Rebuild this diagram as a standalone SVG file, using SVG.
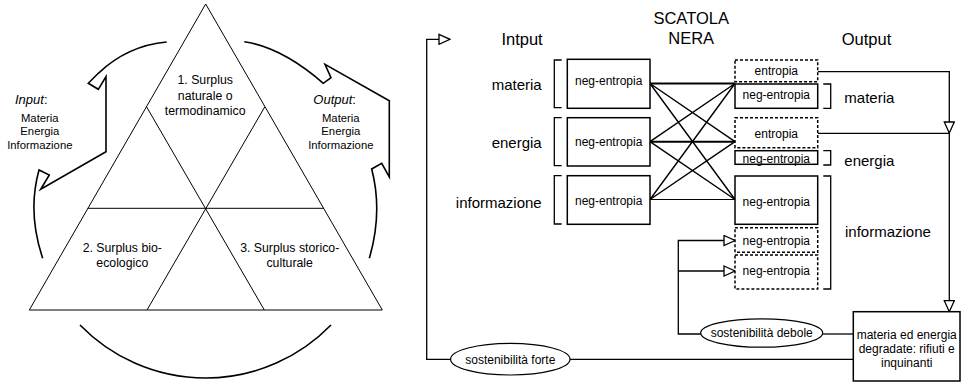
<svg xmlns="http://www.w3.org/2000/svg" width="962" height="382" viewBox="0 0 962 382">
<defs>
<style>
text{font-family:"Liberation Sans",Arial,sans-serif;fill:#000}
.t12{font-size:12px}
.t123{font-size:12.3px}
.t113{font-size:11.3px}
.t13{font-size:13px}
.t15{font-size:15px}
.t165{font-size:16.5px}
.mid{text-anchor:middle}
.end{text-anchor:end}
.tri{fill:none;stroke:#000;stroke-width:1}
.arc{fill:none;stroke:#000;stroke-width:1.6;stroke-linejoin:miter}
.box{fill:#fff;stroke:#000;stroke-width:1.5}
.dbox{fill:#fff;stroke:#000;stroke-width:1.5;stroke-dasharray:3 2}
.br{fill:none;stroke:#000;stroke-width:1.3}
.ln{fill:none;stroke:#000;stroke-width:1.3}
.cr{fill:none;stroke:#000;stroke-width:1.4}
.ell{fill:#fff;stroke:#000;stroke-width:1.2}
</style>
<marker id="ah" markerUnits="userSpaceOnUse" viewBox="-1 -1 13 12" markerWidth="13" markerHeight="12" refX="11" refY="5" orient="auto">
<path d="M0,0 L11,5 L0,10 Z" fill="#fff" stroke="#000" stroke-width="1.3"/>
</marker>
</defs>

<g id="triangle">
<path class="tri" d="M205.7,4 L382.3,310 L29.3,310 Z"/>
<path class="tri" d="M87.7,208.3 H324"/>
<path class="tri" d="M146.7,107 L264.3,310"/>
<path class="tri" d="M264.7,107 L147,310"/>
<text class="t123 mid" x="205.2" y="84.3">1. Surplus</text>
<text class="t123 mid" x="205.2" y="99.5">naturale o</text>
<text class="t123 mid" x="205.2" y="114.7">termodinamico</text>
<text class="t123 mid" x="122.3" y="251.7">2. Surplus bio-</text>
<text class="t123 mid" x="122.3" y="266.7">ecologico</text>
<text class="t123 mid" x="289.7" y="251.7">3. Surplus storico-</text>
<text class="t123 mid" x="289.7" y="266.7">culturale</text>
</g>

<g id="input-arrow">
<path class="arc" d="M166.7,42 Q127.6,45.5 98.3,73.3 L88.3,83.3 L98.3,89.3 L106,76.7 L106,151.7 L40.7,189.3 L49.3,175 L39,170 Q27.2,212.5 42.7,258.3"/>
<text class="t13" x="15" y="104.3"><tspan font-style="italic">Input</tspan>:</text>
<text class="t113 mid" x="39.8" y="121.5">Materia</text>
<text class="t113 mid" x="39.8" y="135">Energia</text>
<text class="t113 mid" x="39.8" y="148.7">Informazione</text>
</g>

<g id="output-arrow">
<path class="arc" d="M244.3,41.7 Q282.2,47.5 323.3,83.3 L331,77.7 L325,64.3 L389.3,100.7 L389.3,177 L381.7,163.3 L371.7,169 Q382.9,212.4 369.3,258.3"/>
<text class="t13" x="313.3" y="104.3"><tspan font-style="italic">Output</tspan>:</text>
<text class="t113 mid" x="340.8" y="121.5">Materia</text>
<text class="t113 mid" x="340.8" y="135">Energia</text>
<text class="t113 mid" x="340.8" y="148.7">Informazione</text>
</g>

<g id="cycle-arc">
<path class="arc" d="M80,325 A175,175 0 0 0 331,325"/>
</g>

<g id="headings">
<text class="t165 mid" x="691.2" y="24">SCATOLA</text>
<text class="t165 mid" x="691.2" y="44.3">NERA</text>
<text class="t165 end" x="542.7" y="45">Intput</text>
<text class="t165" x="841.7" y="45">Output</text>
</g>

<g id="connectors">
<path class="cr" d="M650,83.5 L735,141.7 M650,83.5 L735,199.5 M650,141.7 L735,83.5 M650,141.7 L735,199.5 M650,199.5 L735,83.5 M650,199.5 L735,141.7"/>
<path fill="none" stroke="#000" stroke-width="2" d="M650,83.5 H735 M650,141.7 H735"/>
<path fill="none" stroke="#000" stroke-width="1" d="M650,199.5 H735"/>
<path class="ln" d="M817.7,71.7 H949.3 V133" marker-end="url(#ah)"/>
<path class="ln" d="M817.7,133.3 H949.3"/>
<path class="ln" d="M949.3,133 V311.7" marker-end="url(#ah)"/>
<path class="ln" d="M853.3,334 H822"/>
<path class="ln" d="M701.5,334 H678.3 V240.5 H735" marker-end="url(#ah)"/>
<path class="ln" d="M678.3,271 H735" marker-end="url(#ah)"/>
<path class="ln" d="M853.3,359.3 H569.5"/>
<path class="ln" d="M451.2,359.3 H426.7 V39.3 H450" marker-end="url(#ah)"/>
</g>

<g id="in-materia">
<text class="t15 end" x="541.7" y="90">materia</text>
<path class="br" d="M561.7,60 H554.3 V107.7 H561.7"/>
<rect class="box" x="567.3" y="59.3" width="82.7" height="49"/>
<text class="t12 mid" x="608.7" y="85.3">neg-entropia</text>
</g>
<g id="in-energia">
<text class="t15 end" x="541.7" y="147.7">energia</text>
<path class="br" d="M561.7,117.7 H554.3 V165.7 H561.7"/>
<rect class="box" x="567.3" y="117.7" width="82.7" height="48.3"/>
<text class="t12 mid" x="608.7" y="146">neg-entropia</text>
</g>
<g id="in-informazione">
<text class="t15 end" x="541.7" y="207.7">informazione</text>
<path class="br" d="M561.7,175.7 H554.3 V224 H561.7"/>
<rect class="box" x="567.3" y="175.7" width="82.7" height="48.6"/>
<text class="t12 mid" x="608.7" y="204.7">neg-entropia</text>
</g>

<g id="out-entropia-1">
<rect class="dbox" x="735" y="60" width="82.7" height="21.7"/>
<text class="t12 mid" x="776.3" y="74.7">entropia</text>
</g>
<g id="out-materia">
<rect class="box" x="735" y="84" width="82.7" height="24.3"/>
<text class="t12 mid" x="776.3" y="99.3">neg-entropia</text>
<path class="br" d="M823.3,84 H830.7 V108.3 H823.3"/>
<text class="t15" x="844.3" y="102.7">materia</text>
</g>
<g id="out-entropia-2">
<rect class="dbox" x="735" y="117.7" width="82.7" height="30"/>
<text class="t12 mid" x="776.3" y="137.7">entropia</text>
</g>
<g id="out-energia">
<rect class="box" x="735" y="150.7" width="82.7" height="13.6"/>
<text class="t12 mid" x="776.3" y="162.5">neg-entropia</text>
<path class="br" d="M823.3,150.7 H830.7 V165 H823.3"/>
<text class="t15" x="844.3" y="166">energia</text>
</g>
<g id="out-informazione">
<rect class="box" x="735" y="176" width="82.7" height="48.3"/>
<text class="t12 mid" x="776.3" y="205.7">neg-entropia</text>
<rect class="dbox" x="735" y="227.7" width="82.7" height="24.6"/>
<text class="t12 mid" x="776.3" y="244.7">neg-entropia</text>
<rect class="dbox" x="735" y="255" width="82.7" height="34"/>
<text class="t12 mid" x="776.3" y="275">neg-entropia</text>
<path class="br" d="M823.3,176 H830.7 V289 H823.3"/>
<text class="t15" x="845" y="236.7">informazione</text>
</g>

<g id="rifiuti">
<rect class="box" x="853.3" y="311.7" width="106.7" height="69.3"/>
<text class="t12 mid" x="906.7" y="339">materia ed energia</text>
<text class="t12 mid" x="906.7" y="353.3">degradate: rifiuti e</text>
<text class="t12 mid" x="906.7" y="367">inquinanti</text>
</g>

<g id="sostenibilita-debole">
<ellipse class="ell" cx="761.7" cy="333" rx="61" ry="14.2"/>
<text class="t12 mid" x="761.7" y="337.3">sostenibilità debole</text>
</g>
<g id="sostenibilita-forte">
<ellipse class="ell" cx="510.3" cy="359.2" rx="59.7" ry="15.8"/>
<text class="t12 mid" x="510.3" y="363.5">sostenibilità forte</text>
</g>
</svg>
